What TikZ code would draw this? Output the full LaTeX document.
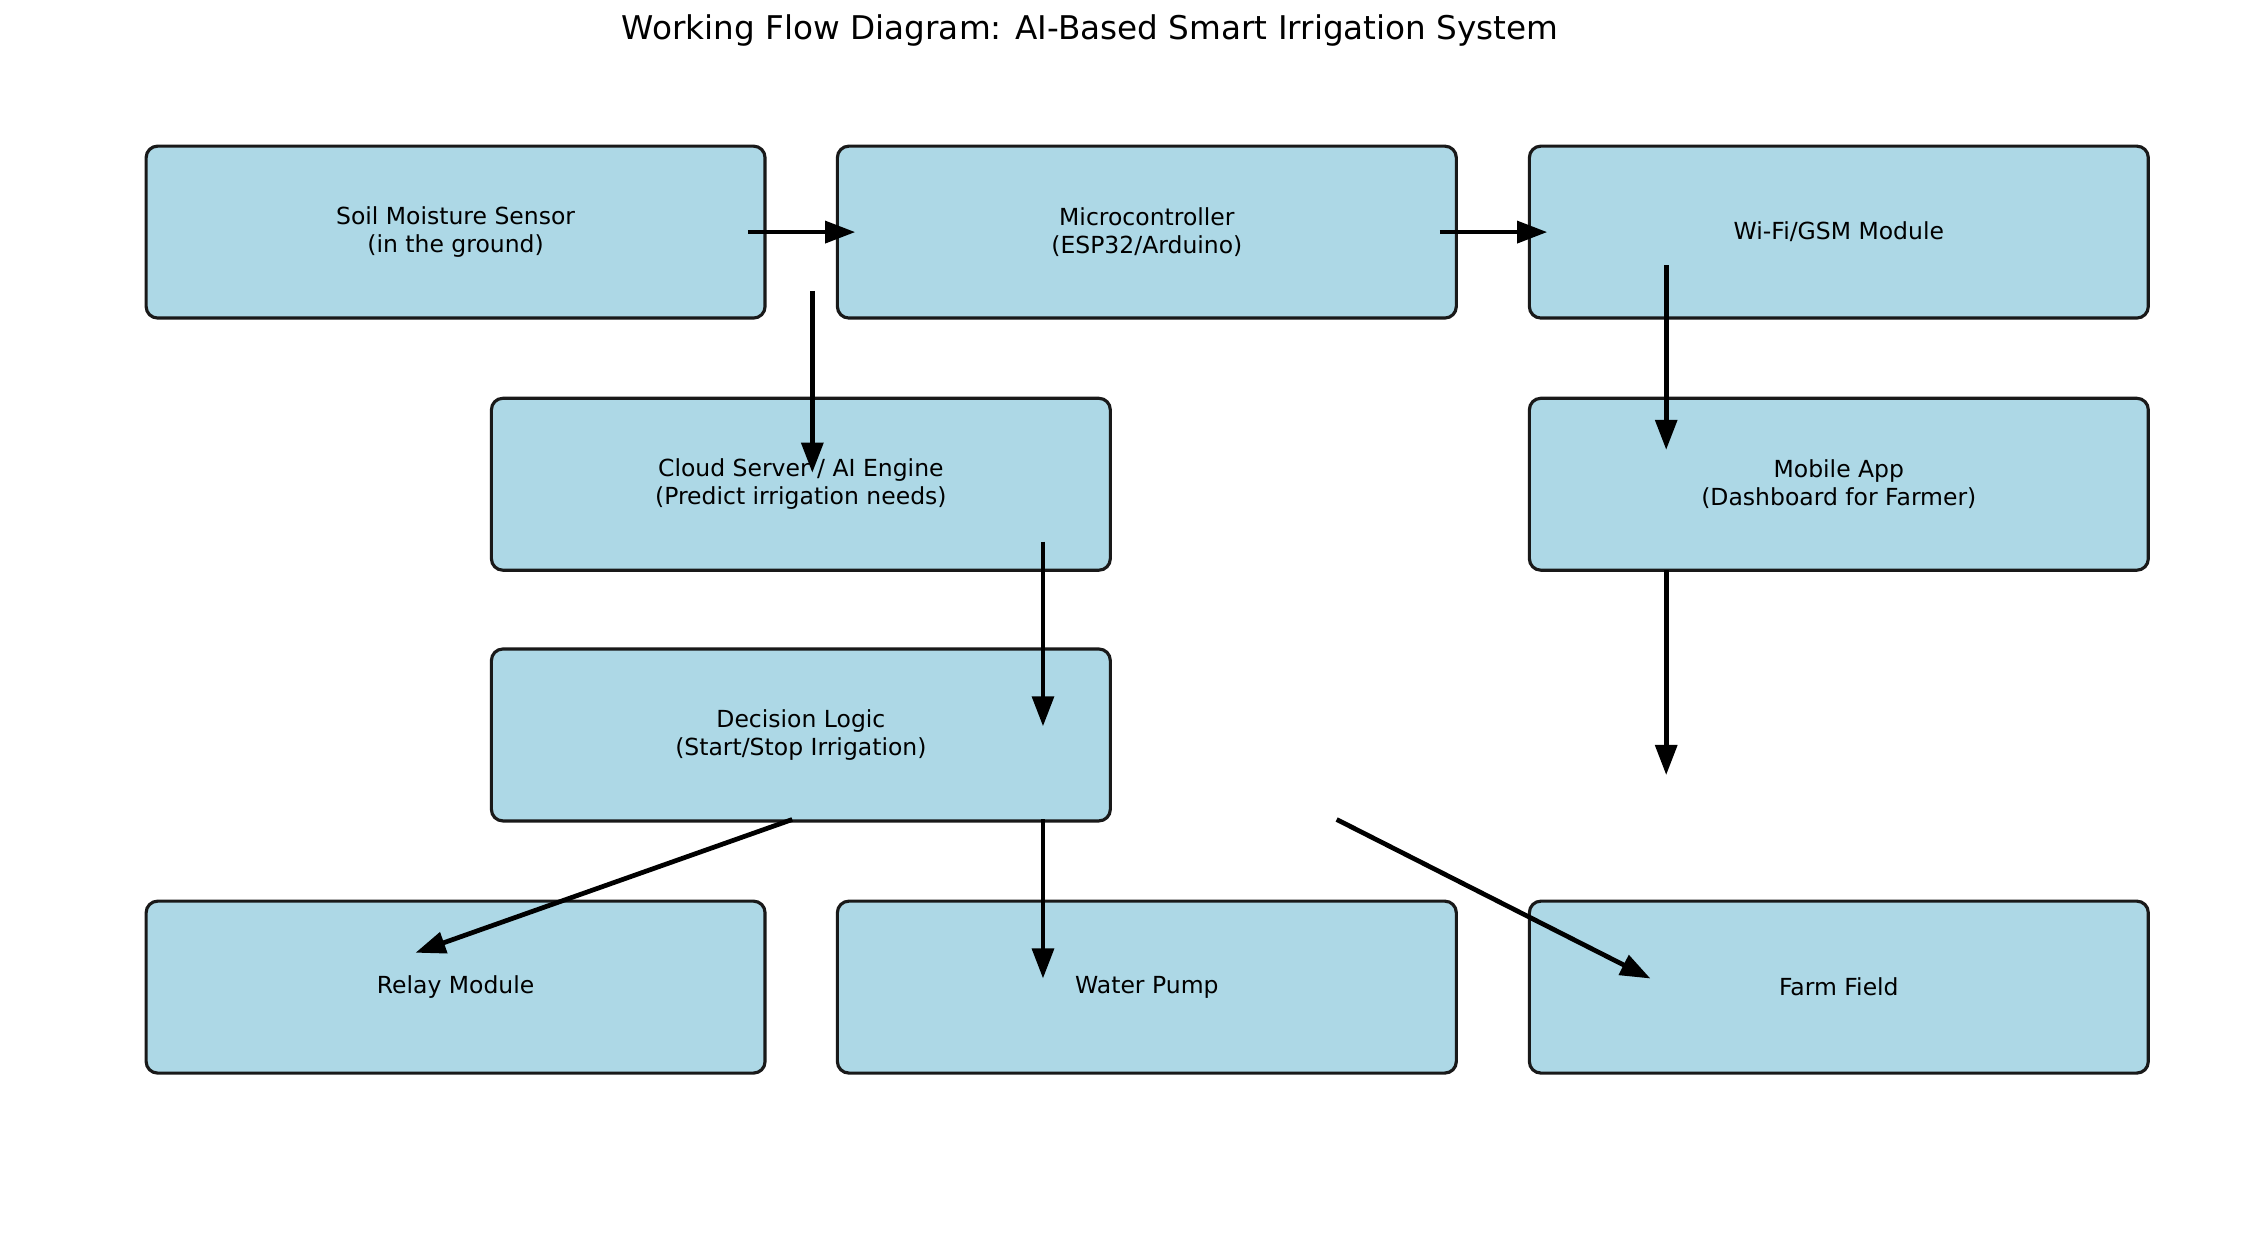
\documentclass[tikz,border=0pt]{standalone}
\usepackage{fontspec}
\setmainfont{DejaVu Sans}
\usetikzlibrary{arrows.meta}
\definecolor{lightblue}{HTML}{ADD8E6}
\begin{document}
\begin{tikzpicture}[x=1pt,y=-1pt,
  box/.style={draw=black!90,line width=2.2pt,rounded corners=8pt,fill=lightblue,
    minimum width=432pt,minimum height=120pt,align=center,
    font=\fontsize{16.4}{19.4}\selectfont},
  arr/.style={line width=3.3pt,-{Triangle[length=21pt,width=15pt]}}]

      \useasboundingbox (0,0) rectangle (1567,874.6);
      \node[font=\fontsize{22.8}{26}\selectfont] (title) at (761,21) {Working Flow Diagram: AI-Based Smart Irrigation System};

      \node[box] (sensor) at (318,162) {Soil Moisture Sensor\\(in the ground)};
      \node[box] (mcu) at (800.5,162) {Microcontroller\\(ESP32/Arduino)};
      \node[box] (wifi) at (1283.5,162) {Wi-Fi/GSM Module};
      \node[box] (cloud) at (559,338) {Cloud Server / AI Engine\\(Predict irrigation needs)};
      \node[box] (app) at (1283.5,338) {Mobile App\\(Dashboard for Farmer)};
      \node[box] (logic) at (559,513) {Decision Logic\\(Start/Stop Irrigation)};
      \node[box] (relay) at (318,689) {Relay Module};
      \node[box] (pump) at (800.5,689) {Water Pump};
      \node[box] (field) at (1283.5,689) {Farm Field};

      \coordinate (a1) at (522,162);  \coordinate (b1) at (597,162);
      \coordinate (a2) at (1005,162); \coordinate (b2) at (1080,162);
      \coordinate (a3) at (567,203);  \coordinate (b3) at (567,330);
      \coordinate (a4) at (1163,185); \coordinate (b4) at (1163,314);
      \coordinate (a5) at (728,378);  \coordinate (b5) at (728,507);
      \coordinate (a6) at (1163,398); \coordinate (b6) at (1163,541);
      \coordinate (a7) at (553,572);  \coordinate (b7) at (290,665);
      \coordinate (a8) at (728,572);  \coordinate (b8) at (728,683);
      \coordinate (a9) at (933,572);  \coordinate (b9) at (1152,683);

      \draw[arr] (a1) -- (b1);
      \draw[arr] (a2) -- (b2);
      \draw[arr] (a3) -- (b3);
      \draw[arr] (a4) -- (b4);
      \draw[arr] (a5) -- (b5);
      \draw[arr] (a6) -- (b6);
      \draw[arr] (a7) -- (b7);
      \draw[arr] (a8) -- (b8);
      \draw[arr] (a9) -- (b9);

    \end{tikzpicture}
\end{document}
